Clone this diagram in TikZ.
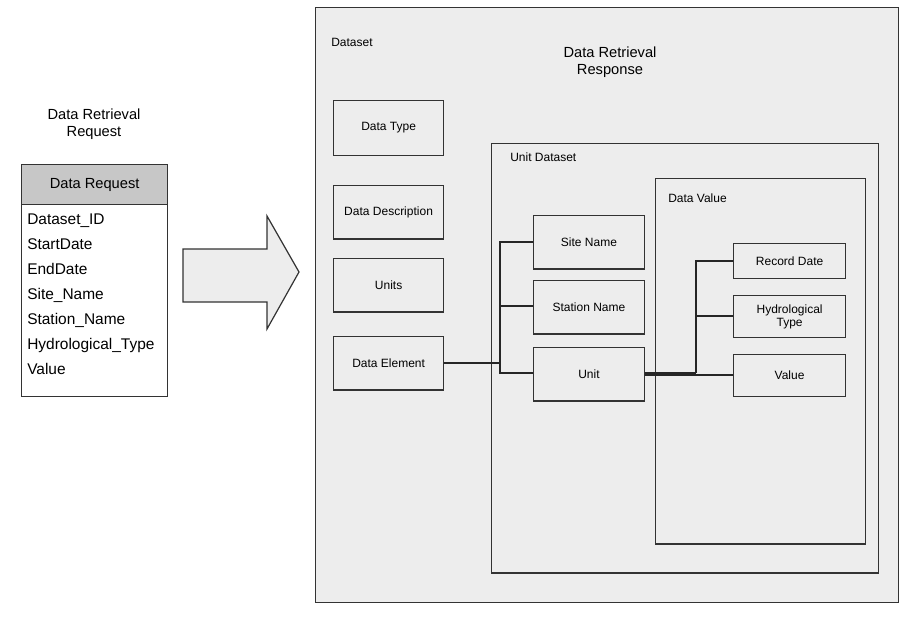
\documentclass[tikz,border=0pt]{standalone}
\usepackage{fontspec}
\setmainfont{Liberation Sans}
\begin{document}
\begin{tikzpicture}[x=0.75pt,y=-0.75pt,
  bx/.style={draw=black!80,fill=black!7,line width=0.9pt},
  it/.style={bx,minimum width=82.5pt,anchor=north west,font=\fontsize{9}{10}\selectfont,align=center,inner sep=1pt},
  cn/.style={line width=1pt,black!85},
  lb/.style={anchor=north west,font=\fontsize{9}{10}\selectfont,inner sep=0pt}]
\useasboundingbox (0,0) rectangle (922,617);
% request
\node[font=\fontsize{11}{13}\selectfont,align=center] (rt) at (94,124) {Data Retrieval\\Request};
\node[bx,fill=black!22,minimum width=109.5pt,minimum height=30pt,anchor=north west,font=\fontsize{11}{12}\selectfont] (rh) at (21,164) {Data Request};
\node[bx,fill=white,minimum width=109.5pt,minimum height=144pt,anchor=north west] (rb) at (21,204) {};
\node[anchor=north west,align=left,inner sep=0pt,font=\fontsize{11.6}{18.75}\selectfont] (rtx) at (27,214) {Dataset\_ID\\StartDate\\EndDate\\Site\_Name\\Station\_Name\\Hydrological\_Type\\Value};
% arrow
\draw[bx] (183,249) -- (267,249) -- (267,216) -- (299,272) -- (267,329) -- (267,302) -- (183,302) -- cycle;
% outer
\node[bx,minimum width=437pt,minimum height=446pt,anchor=north west] (ds) at (315,7) {};
\node[lb] (dsl) at (331,38) {Dataset};
\node[font=\fontsize{11}{13}\selectfont,align=center] (drr) at (610,62) {Data Retrieval\\Response};
\node[it,minimum height=41pt] (dt) at (333,100) {Data Type};
\node[it,minimum height=40pt] (dd) at (333,185) {Data Description};
\node[it,minimum height=40pt] (un) at (333,258) {Units};
\node[it,minimum height=40pt] (de) at (333,336) {Data Element};
\node[bx,minimum width=290pt,minimum height=322pt,anchor=north west] (ud) at (491,143) {};
\node[lb] (udl) at (510,153) {Unit Dataset};
\node[bx,minimum width=157.5pt,minimum height=274pt,anchor=north west] (dv) at (655,178) {};
\node[lb] (dvl) at (668,194) {Data Value};
\node[it,minimum width=83pt,minimum height=40pt] (sn) at (533,215) {Site Name};
\node[it,minimum width=83pt,minimum height=40pt] (st) at (533,280) {Station Name};
\node[it,minimum width=83pt,minimum height=40pt] (u) at (533,347) {Unit};
\node[it,minimum width=84pt,minimum height=26pt] (rd) at (733,243) {Record Date};
\node[it,minimum width=84pt,minimum height=31.5pt] (ht) at (733,295) {Hydrological\\Type};
\node[it,minimum width=84pt,minimum height=31.5pt] (va) at (733,354) {Value};
% connectors
\coordinate (b1) at (500,363);
\draw[cn] (de.east |- b1) -- (b1);
\draw[cn] (sn.west |- 0,242) -- (500,242) -- (500,373) -- (u.west |- 0,373);
\draw[cn] (st.west |- 0,306) -- (500,306);
\coordinate (b2) at (696,373);
\draw[cn] (u.east |- b2) -- (b2);
\draw[cn] (rd.west |- 0,261) -- (696,261) -- (b2);
\draw[cn] (ht.west |- 0,316) -- (696,316);
\draw[cn] (u.east |- 0,375) -- (va.west |- 0,375);
\end{tikzpicture}
\end{document}
